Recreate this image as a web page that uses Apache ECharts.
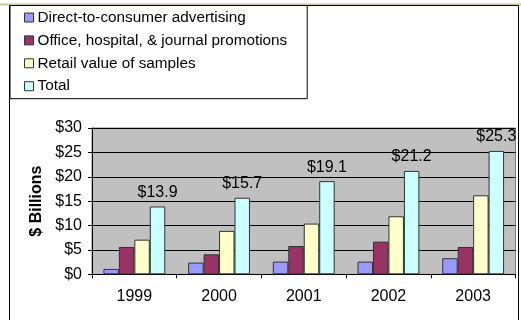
<!DOCTYPE html>
<html>
<head>
<meta charset="utf-8">
<script src="https://cdn.jsdelivr.net/npm/echarts@6/dist/echarts.min.js"></script>
<style>html,body{margin:0;padding:0;background:#fff}#c{width:521px;height:320px}</style>
</head>
<body>
<div id="c"></div>
<script>
var categories = ['1999', '2000', '2001', '2002', '2003'];
var seriesNames = ['Direct-to-consumer advertising', 'Office, hospital, & journal promotions', 'Retail value of samples', 'Total'];
var dtcAdvertising = [1.1, 2.4, 2.6, 2.6, 3.3];
var officePromotions = [5.6, 4.1, 5.8, 6.7, 5.6];
var retailSamples = [7.1, 8.9, 10.4, 11.9, 16.2];
var totalSpend = [13.9, 15.7, 19.1, 21.2, 25.3];
var yTicks = [0, 5, 10, 15, 20, 25, 30];

var colors = ['#9999FF', '#993366', '#FFFFCC', '#CCFFFF'];
var font = '"Liberation Sans", Arial, sans-serif';
var chart = echarts.init(document.getElementById('c'), null, {renderer: 'canvas'});

function bar(name, data, color, withLabel) {
  var s = {
    name: name, type: 'bar', data: data,
    barGap: 0, barCategoryGap: '27%',
    itemStyle: {color: color, borderColor: '#333', borderWidth: 1},
    emphasis: {disabled: true}
  };
  if (withLabel) {
    s.label = {show: true, position: 'top', distance: 6, color: '#000', fontSize: 16, fontFamily: font,
      formatter: function (p) { return '$' + p.value.toFixed(1); }};
  }
  return s;
}

chart.setOption({
  animation: false,
  textStyle: {fontFamily: font},
  graphic: [
    {type: 'line', shape: {x1: 0, y1: 4.5, x2: 521, y2: 4.5}, style: {stroke: '#C8C890', lineWidth: 2}, z: 10},
    {type: 'rect', shape: {x: 9.5, y: 5.5, width: 509, height: 330}, style: {fill: null, stroke: '#000', lineWidth: 1}, z: 10}
  ],
  legend: {
    orient: 'vertical', left: 10, top: 5,
    padding: [5, 20, 5, 14],
    itemWidth: 9, itemHeight: 9, itemGap: 7.9,
    borderColor: '#000', borderWidth: 1,
    icon: 'rect',
    textStyle: {fontSize: 15.3, color: '#000', fontFamily: font, padding: [0, 0, 0, -1]},
    data: seriesNames.map(function (n, i) {
      return {name: n, itemStyle: {color: colors[i], borderColor: '#333', borderWidth: 1}};
    })
  },
  grid: {left: 92, right: 5.5, top: 128, bottom: 45.7, show: true, backgroundColor: '#C0C0C0', borderColor: '#808080', borderWidth: 1},
  xAxis: {
    type: 'category', data: categories,
    axisLine: {lineStyle: {color: '#000', width: 1}},
    axisTick: {show: true, length: 4, lineStyle: {color: '#000'}},
    axisLabel: {color: '#000', fontSize: 16, margin: 14, fontFamily: font}
  },
  yAxis: {
    type: 'value', min: yTicks[0], max: yTicks[yTicks.length - 1], interval: 5,
    name: '$ Billions', nameLocation: 'middle', nameGap: 46,
    nameTextStyle: {fontWeight: 'bold', fontSize: 16, color: '#000', fontFamily: font},
    axisLine: {show: true, lineStyle: {color: '#000', width: 1}},
    axisTick: {show: true, length: 4, lineStyle: {color: '#000'}},
    splitLine: {lineStyle: {color: '#000', width: 1}},
    axisLabel: {color: '#000', fontSize: 16, margin: 10, fontFamily: font, formatter: function (v) { return '$' + v; }}
  },
  series: [
    bar(seriesNames[0], dtcAdvertising, colors[0], false),
    bar(seriesNames[1], officePromotions, colors[1], false),
    bar(seriesNames[2], retailSamples, colors[2], false),
    bar(seriesNames[3], totalSpend, colors[3], true)
  ]
});
</script>
</body>
</html>
